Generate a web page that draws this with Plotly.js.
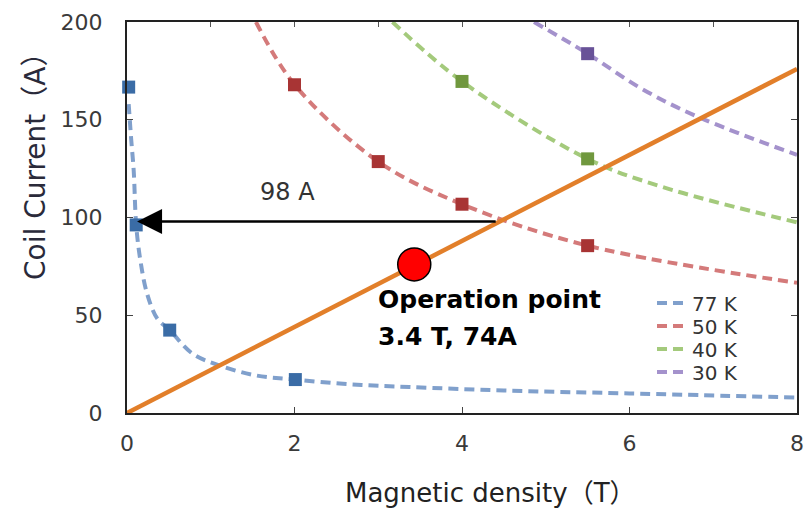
<!DOCTYPE html>
<html>
<head>
<meta charset="utf-8">
<script src="https://cdn.plot.ly/plotly-3.0.1.min.js"></script>
<style>html,body{margin:0;padding:0;background:#fff;}#chart{width:811px;height:511px;}</style>
</head>
<body>
<div id="chart"></div>
<script>
// ---- data ----
const seriesNames = ['77 K', '50 K', '40 K', '30 K'];

// dashed fit curves
const curve77X = [0.02, 0.05, 0.08, 0.11, 0.16, 0.24, 0.36, 0.51, 0.78, 1.1, 1.53, 2.01, 2.65, 3.37, 4.5, 6, 8];
const curve77Y = [158, 140, 124, 96, 78, 61, 48.4, 42.4, 30.4, 24.4, 19.3, 17.1, 14.7, 13.3, 11.5, 10, 7.9];
const curve50X = [1.54, 2, 3, 4, 5.5, 8];
const curve50Y = [200, 168, 128.6, 106.8, 85.6, 66.6];
const curve40X = [3.17, 4, 5.5, 6.38, 8];
const curve40Y = [200, 169.6, 130, 115.8, 97.5];
const curve30X = [4.86, 5.5, 6.14, 6.81, 8];
const curve30Y = [200, 183.8, 166, 151.6, 132];

// measured points (square markers)
const pts77X = [0.02, 0.11, 0.51, 2.01];
const pts77Y = [166.7, 96.2, 42.4, 17.1];
const pts50X = [2, 3, 4, 5.5];
const pts50Y = [167.9, 128.6, 106.8, 85.6];
const pts40X = [4, 5.5];
const pts40Y = [169.6, 130];
const pts30X = [5.5];
const pts30Y = [183.8];

// load line of the coil
const loadX = [0, 8];
const loadY = [0, 176];

// operation point and arrow
const opX = [3.43];
const opY = [76];
const arrowY = 98;
const arrowFromX = 4.42;
const arrowToX = 0.12;

const xTickVals = [0, 2, 4, 6, 8];
const yTickVals = [0, 50, 100, 150, 200];

// ---- styles ----
const FONT = 'DejaVu Sans, Noto Sans CJK JP, sans-serif';
const lineColors = ['rgb(128,160,204)', 'rgb(212,122,122)', 'rgb(164,202,124)', 'rgb(164,146,204)'];
const markColors = ['rgb(58,108,166)', 'rgb(168,52,52)', 'rgb(112,152,62)', 'rgb(104,82,152)'];
const curvesX = [curve77X, curve50X, curve40X, curve30X];
const curvesY = [curve77Y, curve50Y, curve40Y, curve30Y];
const ptsX = [pts77X, pts50X, pts40X, pts30X];
const ptsY = [pts77Y, pts50Y, pts40Y, pts30Y];
const legendIds = ['legend', 'legend2', 'legend3', 'legend4'];

const traces = [];
for (let i = 0; i < 4; i++) {
  traces.push({
    type: 'scatter', mode: 'lines', name: seriesNames[i],
    x: curvesX[i], y: curvesY[i],
    line: {color: lineColors[i], width: 4, dash: '10px,6px', shape: 'spline', smoothing: 1},
    legend: legendIds[i], hoverinfo: 'skip'
  });
}
for (let i = 0; i < 4; i++) {
  traces.push({
    type: 'scatter', mode: 'markers', showlegend: false,
    x: ptsX[i], y: ptsY[i], cliponaxis: false,
    marker: {symbol: 'square', size: 13, color: markColors[i]},
    hoverinfo: 'skip'
  });
}
traces.push({
  type: 'scatter', mode: 'lines', showlegend: false, xaxis: 'x2', yaxis: 'y',
  x: loadX, y: loadY, line: {color: 'rgb(226,127,42)', width: 4.5}, hoverinfo: 'skip'
});
traces.push({
  type: 'scatter', mode: 'markers', showlegend: false, xaxis: 'x2', yaxis: 'y',
  x: opX, y: opY, cliponaxis: false,
  marker: {symbol: 'circle', size: 33, color: '#ff0000', line: {color: '#000', width: 1.5}},
  hoverinfo: 'skip'
});

const legendRowsPx = [303, 326, 349, 372];
const plotTop = 22, plotH = 391, plotL = 127, plotW = 670;
function legendAt(py) {
  return {
    x: (652 - plotL) / plotW, xanchor: 'left',
    y: 1 - (py - plotTop) / plotH, yanchor: 'middle',
    bgcolor: 'rgba(0,0,0,0)', borderwidth: 0,
    font: {family: FONT, size: 20, color: '#333'}
  };
}

const axisFont = {family: FONT, size: 22, color: '#3a3a3a'};
const layout = {
  width: 811, height: 511,
  margin: {l: 127, r: 14, t: 22, b: 98, pad: 0},
  paper_bgcolor: '#fff', plot_bgcolor: '#fff',
  showlegend: true,
  legend: legendAt(legendRowsPx[0]),
  legend2: legendAt(legendRowsPx[1]),
  legend3: legendAt(legendRowsPx[2]),
  legend4: legendAt(legendRowsPx[3]),
  xaxis: {
    range: [0, 8], tickvals: xTickVals, ticktext: xTickVals.map(String),
    ticks: 'inside', ticklen: 6, tickwidth: 1, tickcolor: '#444',
    showline: true, linecolor: '#222', linewidth: 2, mirror: true,
    showgrid: false, zeroline: false, tickfont: axisFont, ticklabelstandoff: 10
  },
  xaxis2: {
    range: [0, 8], overlaying: 'x', side: 'top', anchor: 'y', dtick: 1,
    ticks: 'inside', ticklen: 5, tickwidth: 1, tickcolor: '#555',
    showticklabels: false, showline: false, showgrid: false, zeroline: false
  },
  yaxis: {
    range: [0, 200], tickvals: yTickVals, ticktext: yTickVals.map(String),
    ticks: 'inside', ticklen: 6, tickwidth: 1, tickcolor: '#444',
    showline: true, linecolor: '#222', linewidth: 2, mirror: 'ticks',
    showgrid: false, zeroline: false, tickfont: axisFont, ticklabelstandoff: 18
  },
  annotations: [
    {xref: 'paper', yref: 'paper', x: (490 - plotL) / plotW, y: 1 - (493 - plotTop) / plotH,
     xanchor: 'center', yanchor: 'middle', showarrow: false,
     text: 'Magnetic density（T）', font: {family: FONT, size: 26, color: '#222'}},
    {xref: 'paper', yref: 'paper', x: (35 - plotL) / plotW, y: 1 - (160 - plotTop) / plotH,
     xanchor: 'center', yanchor: 'middle', showarrow: false, textangle: -90,
     text: 'Coil Current（A）', font: {family: FONT, size: 28, color: '#2a2a3a'}},
    {x: arrowToX, y: arrowY, ax: arrowFromX, ay: arrowY, axref: 'x', ayref: 'y',
     xref: 'x', yref: 'y', text: '', showarrow: true, arrowhead: 2, arrowsize: 2,
     arrowwidth: 2.5, arrowcolor: '#000', standoff: 0, startstandoff: 0},
    {x: 1.92, y: 113.2, xref: 'x', yref: 'y', showarrow: false,
     text: '98 A', font: {family: FONT, size: 24, color: '#333'}},
    {x: 2.97, y: 58.2, xref: 'x', yref: 'y', xanchor: 'left', yanchor: 'middle', showarrow: false,
     text: '<b>Operation point</b>', font: {family: FONT, size: 25, color: '#000'}},
    {x: 2.97, y: 39.2, xref: 'x', yref: 'y', xanchor: 'left', yanchor: 'middle', showarrow: false,
     text: '<b>3.4 T, 74A</b>', font: {family: FONT, size: 25, color: '#000'}}
  ]
};

Plotly.newPlot('chart', traces, layout, {staticPlot: true, displayModeBar: false});
</script>
</body>
</html>
